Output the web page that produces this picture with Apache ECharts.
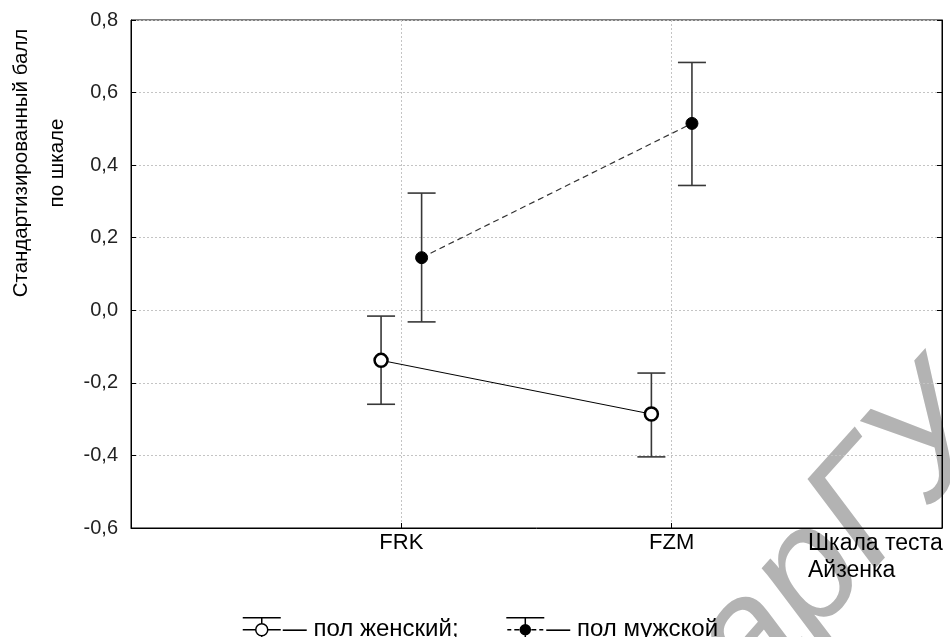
<!DOCTYPE html>
<html><head><meta charset="utf-8">
<script src="https://cdn.jsdelivr.net/npm/echarts@6/dist/echarts.min.js"></script>
<style>html,body{margin:0;padding:0;background:#fff}#c{width:950px;height:637px}</style>
</head><body><div id="c"></div><script>
const categories = ['FRK', 'FZM'];
const seriesNames = ['пол женский', 'пол мужской'];
const femaleMean = [-0.138, -0.286];
const femaleLow = [-0.259, -0.404];
const femaleHigh = [-0.016, -0.173];
const maleMean = [0.145, 0.515];
const maleLow = [-0.032, 0.344];
const maleHigh = [0.323, 0.683];
const yTickLabels = ['-0,6', '-0,4', '-0,2', '0,0', '0,2', '0,4', '0,6', '0,8'];
const xAxisTitle = 'Шкала теста\nАйзенка';
const yAxisTitle = 'Стандартизированный балл\nпо шкале';
const watermark = 'БарГУ';

const DODGE = 0.075;
const FONT = 'Liberation Sans, Arial, sans-serif';

function pts(means, shift) { return means.map((m, i) => [i + 1 + shift, m]); }
function errs(lo, hi, shift) { return lo.map((l, i) => [i + 1 + shift, l, hi[i]]); }

function errRender(params, api) {
  const x = api.value(0), lo = api.value(1), hi = api.value(2);
  const a = api.coord([x, lo]), b = api.coord([x, hi]);
  const hw = 14;
  const st = { stroke: '#383838', lineWidth: 1.6 };
  return { type: 'group', children: [
    { type: 'line', shape: { x1: a[0], y1: a[1], x2: b[0], y2: b[1] }, style: st },
    { type: 'line', shape: { x1: a[0] - hw, y1: a[1], x2: a[0] + hw, y2: a[1] }, style: st },
    { type: 'line', shape: { x1: b[0] - hw, y1: b[1], x2: b[0] + hw, y2: b[1] }, style: st }
  ]};
}

const femaleIcon = 'path://M0,0L38,0M0,24L38,24M19,0L19,6M19,18L19,24M0,12L13,12M25,12L38,12M25,12A6,6,0,1,1,13,12A6,6,0,1,1,25,12Z';
const maleIcon = 'path://M0,0L38,0M0,24L38,24M19,0L19,7M19,17L19,24M1,12L5,12M8,12L13,12M25,12L30,12M33,12L37,12M24,12A5,5,0,1,1,14,12A5,5,0,1,1,24,12Z';

const chart = echarts.init(document.getElementById('c'), null, { renderer: 'canvas' });
chart.setOption({
  animation: false,
  backgroundColor: '#fff',
  textStyle: { fontFamily: FONT, color: '#000' },
  grid: { left: 131, right: 8, top: 20, bottom: 109, show: true, borderColor: '#000', borderWidth: 1 },
  xAxis: {
    type: 'value', min: 0, max: 3, interval: 1,
    axisLine: { onZero: false, lineStyle: { color: '#000' } },
    axisTick: { inside: true, length: 5, lineStyle: { color: '#000' } },
    axisLabel: { margin: 4, fontSize: 22, color: '#000', fontFamily: FONT,
      formatter: v => categories[Math.round(v) - 1] || '' },
    splitLine: { show: true, lineStyle: { type: [2, 2], color: '#c4c4c4' } },
    name: xAxisTitle, nameLocation: 'end', nameGap: -134,
    nameTextStyle: { fontSize: 23, lineHeight: 27, color: '#000', fontFamily: FONT, align: 'left', verticalAlign: 'top', padding: [2, 0, 0, 0] }
  },
  yAxis: [{
    type: 'value', min: -0.6, max: 0.8, interval: 0.2,
    axisLine: { show: true, lineStyle: { color: '#000' } },
    axisTick: { show: true, inside: true, length: 5, lineStyle: { color: '#000' } },
    axisLabel: { margin: 13, fontSize: 20, color: '#222', fontFamily: FONT,
      formatter: v => yTickLabels[Math.round((v + 0.6) / 0.2)] },
    splitLine: { show: true, lineStyle: { type: [2, 2], color: '#c4c4c4' } }
  }, {
    type: 'value', min: -0.6, max: 0.8, interval: 0.2, position: 'right',
    axisLine: { show: true, lineStyle: { color: '#000' } },
    axisTick: { show: true, inside: true, length: 5, lineStyle: { color: '#000' } },
    axisLabel: { show: false }, splitLine: { show: false }
  }],
  legend: {
    left: 237, top: 612, itemWidth: 38, itemHeight: 24, itemGap: 47,
    textStyle: { fontSize: 24, color: '#000', fontFamily: FONT, padding: [0, 0, 0, -3] },
    formatter: n => n === seriesNames[0] ? '— ' + n + ';' : '— ' + n,
    data: [
      { name: seriesNames[0], icon: femaleIcon, itemStyle: { color: '#fff', borderColor: '#000', borderWidth: 1.5 } },
      { name: seriesNames[1], icon: maleIcon, itemStyle: { color: '#000', borderColor: '#000', borderWidth: 1.5 } }
    ]
  },
  graphic: [
    { type: 'text', x: 650, y: 752, rotation: 48 * Math.PI / 180, z: -10,
      style: { text: watermark, fontSize: 160, fontStyle: 'italic', fontFamily: FONT, fill: '#b3b3b3', align: 'left', verticalAlign: 'middle', textAlign: 'left', textVerticalAlign: 'middle' } },
    { type: 'text', x: 39, y: 163, rotation: Math.PI / 2,
      style: { text: yAxisTitle, fontSize: 20.5, lineHeight: 36, fontFamily: FONT, fill: '#000', align: 'center', verticalAlign: 'middle', textAlign: 'center', textVerticalAlign: 'middle' } }
  ],
  series: [
    { name: seriesNames[0], type: 'custom', renderItem: errRender, data: errs(femaleLow, femaleHigh, -DODGE), z: 2, silent: true },
    { name: seriesNames[1], type: 'custom', renderItem: errRender, data: errs(maleLow, maleHigh, DODGE), z: 2, silent: true },
    { name: seriesNames[0], type: 'line', data: pts(femaleMean, -DODGE), z: 3,
      symbol: 'circle', symbolSize: 13,
      itemStyle: { color: '#fff', borderColor: '#000', borderWidth: 2.5 },
      lineStyle: { color: '#000', width: 1 } },
    { name: seriesNames[1], type: 'line', data: pts(maleMean, DODGE), z: 3,
      symbol: 'circle', symbolSize: 12,
      itemStyle: { color: '#000', borderColor: '#000', borderWidth: 1 },
      lineStyle: { color: '#333', width: 1.2, type: [6, 4] } }
  ]
});
</script></body></html>
